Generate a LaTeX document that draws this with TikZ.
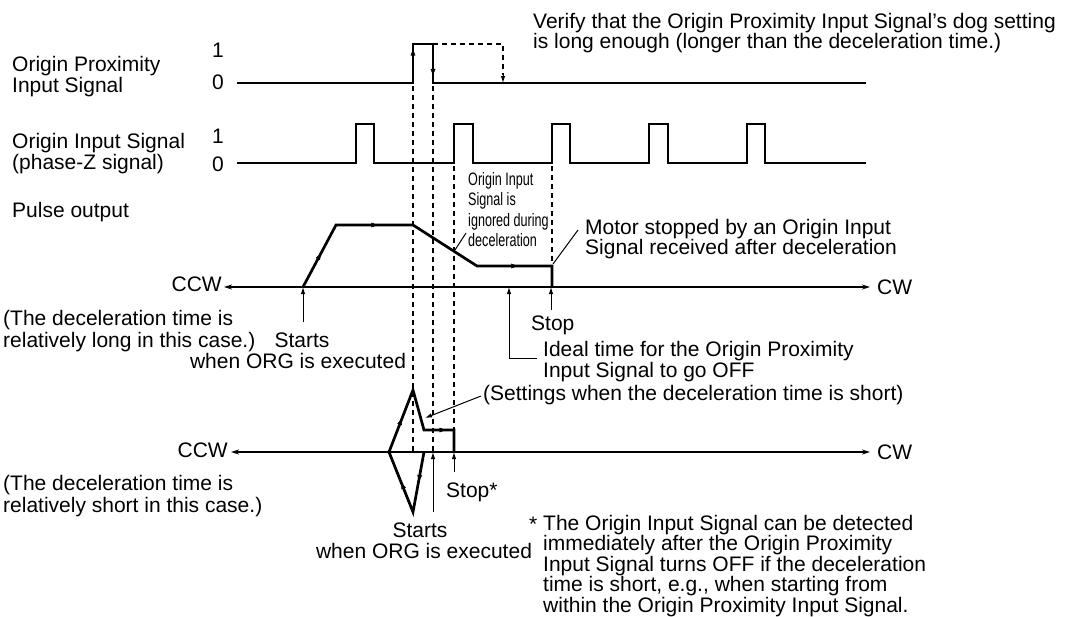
\documentclass[tikz,border=0pt]{standalone}
\usepackage{fontspec}
\setmainfont{Liberation Sans}
\newfontfamily\narrowfont[FakeStretch=0.7]{Liberation Sans}
\usetikzlibrary{arrows.meta,decorations.markings,calc}
\tikzset{
  sig/.style={line width=2.7pt, line join=miter},
  ax/.style={line width=1.4pt},
  dsh/.style={line width=1.1pt, dash pattern=on 5pt off 4pt},
  thin/.style={line width=1pt},
  tip/.style={-{Latex[length=7pt,width=4.5pt]}},
  mk/.style={decorate, decoration={markings, mark=at position #1 with {\arrow{Latex[length=7pt,width=5pt]}}}},
  txt/.style={anchor=base west, inner sep=0pt, font=\fontsize{21}{21}\selectfont},
  ctxt/.style={anchor=base, inner sep=0pt, font=\fontsize{21}{21}\selectfont},
  ntxt/.style={anchor=base west, inner sep=0pt, font=\narrowfont\fontsize{18}{18}\selectfont},
}
\begin{document}
\begin{tikzpicture}[x=1pt,y=-1pt]
\useasboundingbox (0,0) rectangle (1067,616);
% ---------- left labels ----------
\node[txt] (l1) at (12,71) {Origin Proximity};
\node[txt] (l2) at (12,92) {Input Signal};
\node[txt] (l3) at (12,148) {Origin Input Signal};
\node[txt] (l4) at (12,169) {(phase-Z signal)};
\node[txt] (l5) at (12,217) {Pulse output};
\node[ctxt,anchor=center] (p1) at (218,50) {1};
\node[ctxt,anchor=center] (p0) at (218,82) {0};
\node[ctxt,anchor=center] (o1) at (218,136) {1};
\node[ctxt,anchor=center] (o0) at (218,164) {0};
% ---------- top text ----------
\node[txt] (v1) at (533,28) {Verify that the Origin Proximity Input Signal’s dog setting};
\node[txt] (v2) at (533,48) {is long enough (longer than the deceleration time.)};
% ---------- Origin proximity signal ----------
\coordinate (pa) at (413,83);
\coordinate (pb) at (413,44);
\coordinate (pc) at (433,44);
\coordinate (pd) at (433,83);
\coordinate (pe) at (503,44);
\coordinate (pf) at (503,83);
\coordinate (pg) at (503,75);
\draw[sig] (237,83) -- (pa) -- (pb) -- (pc) -- (pd) -- (866,83);
\path[mk=0.88] (pa) -- (pb);
\path[mk=0.82] (pc) -- (pd);
\draw[dsh] (pc) -- (pe) -- (pg);
\draw[thin,tip] (pg) -- (pf);
% ---------- Origin input signal ----------
\draw[sig] (237,163) -- (356,163) -- (356,124) -- (374,124) -- (374,163)
  -- (454,163) -- (454,124) -- (473,124) -- (473,163)
  -- (552,163) -- (552,124) -- (570,124) -- (570,163)
  -- (649,163) -- (649,124) -- (668,124) -- (668,163)
  -- (747,163) -- (747,124) -- (765,124) -- (765,163) -- (866,163);
% ---------- dashed guides ----------
\draw[dsh] (413,86) -- (413,452);
\draw[dsh] (433,86) -- (433,452);
\draw[dsh] (454,166) -- (454,430);
\draw[dsh] (552,166) -- (552,266);
% ---------- upper axis and pulse output ----------
\coordinate (ccw1) at (224,287);
\coordinate (cw1) at (870,287);
\draw[ax,{Stealth[length=8pt,width=5pt]}-{Stealth[length=8pt,width=5pt]}] (ccw1) -- (cw1);
\node[txt,anchor=east] (tccw1) at (222,284) {CCW};
\node[txt,anchor=west] (tcw1) at (877,287) {CW};
\coordinate (u0) at (303,287);
\coordinate (u1) at (336,225);
\coordinate (u2) at (413,225);
\coordinate (u3) at (477,266);
\coordinate (u4) at (552,266);
\coordinate (u5) at (552,287);
\draw[sig] (u0) -- (u1) -- (u2) -- (u3) -- (u4) -- (u5);
\path[mk=0.55] (u0) -- (u1);
\path[mk=0.55] (u1) -- (u2);
\path[mk=0.55] (u3) -- (u4);
% arrows below upper axis
\draw[thin,tip] (303,322) -- (u0);
\draw[thin,tip] (551,310) -- (551,287);
\draw[thin,tip] (537,358) -- (509,358) -- (509,287);
\node[txt] (tl1) at (3,325) {(The deceleration time is};
\node[txt] (tl2) at (3,347) {relatively long in this case.)};
\node[ctxt] (st1) at (302,347) {Starts};
\node[ctxt] (st2) at (298,368) {when ORG is executed};
\node[txt] (stop1) at (531,330) {Stop};
\node[txt] (id1) at (543,356) {Ideal time for the Origin Proximity};
\node[txt] (id2) at (543,377) {Input Signal to go OFF};
\node[txt] (mo1) at (585,234) {Motor stopped by an Origin Input};
\node[txt] (mo2) at (585,254) {Signal received after deceleration};
\draw[thin] (578,230) -- (553,264);
\node[ntxt] (ig1) at (468,185) {Origin Input};
\node[ntxt] (ig2) at (468,205) {Signal is};
\node[ntxt] (ig3) at (468,226) {ignored during};
\node[ntxt] (ig4) at (468,246) {deceleration};
\draw[thin] (466,233) -- (455,250);
% ---------- lower axis and short deceleration trace ----------
\coordinate (ccw2) at (231,452);
\coordinate (cw2) at (870,452);
\draw[ax,{Stealth[length=8pt,width=5pt]}-{Stealth[length=8pt,width=5pt]}] (ccw2) -- (cw2);
\node[txt,anchor=east] (tccw2) at (228,450) {CCW};
\node[txt,anchor=west] (tcw2) at (877,452) {CW};
\coordinate (d0) at (424,452);
\coordinate (d1) at (413,512);
\coordinate (d2) at (389,452);
\coordinate (d3) at (413,390);
\coordinate (d4) at (424,430);
\coordinate (d5) at (454,430);
\coordinate (d6) at (454,452);
\draw[sig] (d0) -- (d1) -- (d2) -- (d3) -- (d4) -- (d5) -- (d6);
\path[mk=0.5] (d0) -- (d1);
\path[mk=0.5] (d1) -- (d2);
\path[mk=0.55] (d2) -- (d3);
\path[mk=0.75] (d4) -- (d5);
\node[txt] (se) at (483,400) {(Settings when the deceleration time is short)};
\draw[thin,tip] (481,396) -- (425,418);
\draw[thin,tip] (433,512) -- (433,452);
\draw[thin,tip] (454,472) -- (d6);
\node[txt] (tl3) at (3,490) {(The deceleration time is};
\node[txt] (tl4) at (3,512) {relatively short in this case.)};
\node[txt] (stop2) at (446,497) {Stop*};
\node[ctxt] (st3) at (420,537) {Starts};
\node[ctxt] (st4) at (424,558) {when ORG is executed};
% ---------- footnote ----------
\node[txt] (fs) at (529,531) {*};
\node[txt] (f1) at (543,530) {The Origin Input Signal can be detected};
\node[txt] (f2) at (543,550.5) {immediately after the Origin Proximity};
\node[txt] (f3) at (543,571) {Input Signal turns OFF if the deceleration};
\node[txt] (f4) at (543,591.5) {time is short, e.g., when starting from};
\node[txt] (f5) at (543,612) {within the Origin Proximity Input Signal.};
\end{tikzpicture}
\end{document}
